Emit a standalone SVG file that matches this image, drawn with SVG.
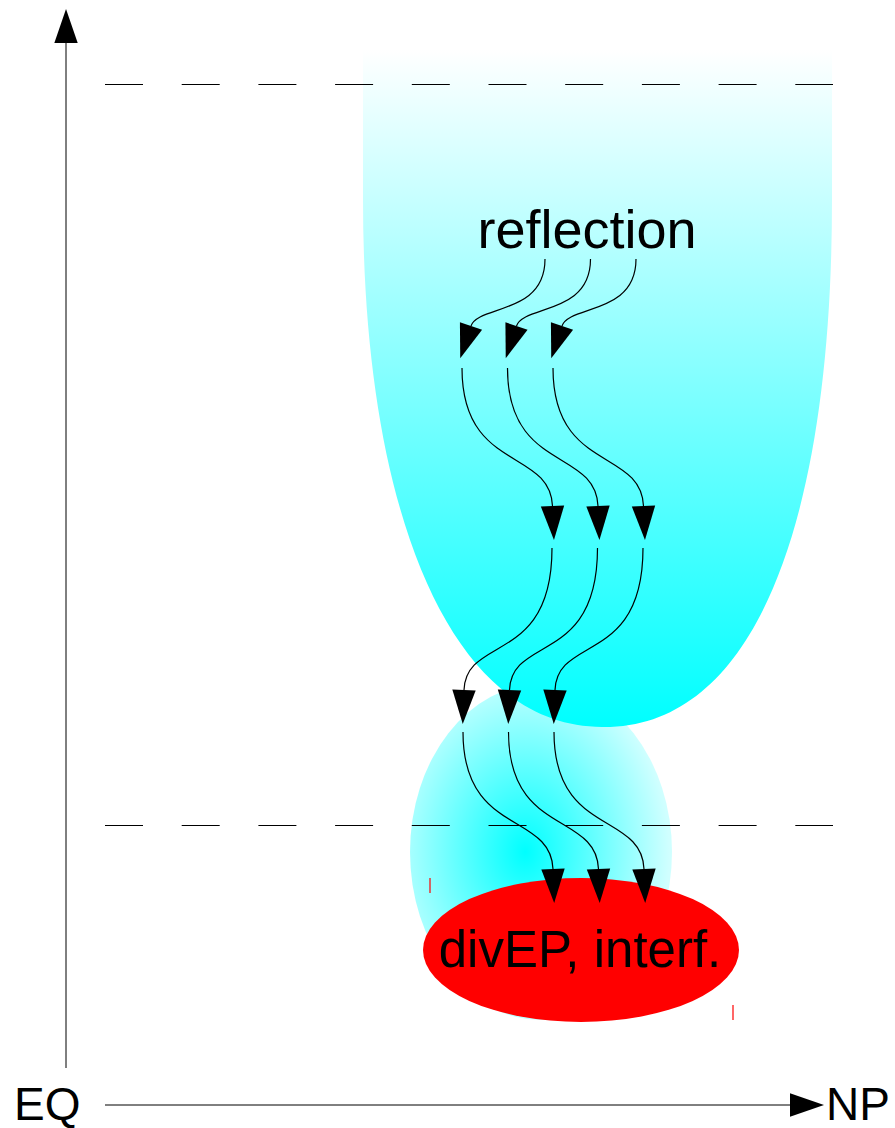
<svg xmlns="http://www.w3.org/2000/svg" width="895" height="1128" viewBox="0 0 895 1128">
<style>
.lbl{font-family:"Liberation Sans",Arial,sans-serif;fill:#000}
.conn{fill:none;stroke:#000;stroke-width:1.2}
.axis{fill:none;stroke:#000;stroke-width:1}
.dash{fill:none;stroke:#000;stroke-width:1;stroke-dasharray:38 38.7}
.tick{stroke:#ff0000;stroke-width:1.2}
</style>
<defs>
<linearGradient id="gUp" gradientUnits="userSpaceOnUse" x1="0" y1="50" x2="0" y2="725">
<stop offset="0" stop-color="#ffffff"/>
<stop offset="1" stop-color="#00ffff"/>
</linearGradient>
<radialGradient id="gLow" cx="0.44" cy="0.5" r="0.55">
<stop offset="0" stop-color="#00ffff"/>
<stop offset="1" stop-color="#d0ffff"/>
</radialGradient>
<marker id="ah" markerUnits="userSpaceOnUse" markerWidth="34" markerHeight="24" viewBox="0 0 32 22" refX="0" refY="11" orient="auto" overflow="visible">
<path d="M0,0 L32,11 L0,22 z" fill="#000"/>
</marker>
</defs>
<g id="lower-region">
<ellipse cx="541" cy="852" rx="131" ry="168" fill="url(#gLow)"/>
</g>
<g id="upper-region">
<path d="M363,50 L363,200 C363,510 450,728 603,727 C760,728 832,510 832,200 L832,50 Z" fill="url(#gUp)"/>
</g>
<g id="divEP">
<ellipse cx="581" cy="950" rx="158" ry="72" fill="#ff0000"/>
<text class="lbl" x="580" y="967" font-size="51" text-anchor="middle">divEP, interf.</text>
</g>
<g id="marks">
<line class="tick" x1="430" y1="878" x2="430" y2="893"/>
<line class="tick" x1="733" y1="1005" x2="733" y2="1020"/>
</g>
<g id="levels">
<line class="dash" x1="105" y1="84.5" x2="833" y2="84.5"/>
<line class="dash" x1="105" y1="825.5" x2="833" y2="825.5"/>
</g>
<g id="reflection">
<text class="lbl" x="587" y="248" font-size="54" text-anchor="middle">reflection</text>
</g>
<g id="axes">
<line class="axis" x1="66" y1="1068" x2="66" y2="43" marker-end="url(#ah)"/>
<line class="axis" x1="105" y1="1105" x2="790" y2="1105" marker-end="url(#ah)"/>
<text class="lbl" x="14" y="1120" font-size="46">EQ</text>
<text class="lbl" x="826" y="1120" font-size="46">NP</text>
</g>
<g id="connectors">
<path class="conn" d="M545,259 C545,315 478,305 471,326" marker-end="url(#ah)"/>
<path class="conn" d="M590.5,259 C590.5,315 523.5,305 516.5,326" marker-end="url(#ah)"/>
<path class="conn" d="M636,259 C636,315 569,305 562,326" marker-end="url(#ah)"/>
<path class="conn" d="M462,368 C462,472 550,448 552.5,506" marker-end="url(#ah)"/>
<path class="conn" d="M507.5,368 C507.5,472 595.5,448 598,506" marker-end="url(#ah)"/>
<path class="conn" d="M553,368 C553,472 641,448 643.5,506" marker-end="url(#ah)"/>
<path class="conn" d="M552,548 C552,665 466,635 464,690" marker-end="url(#ah)"/>
<path class="conn" d="M597.5,548 C597.5,665 511.5,635 509.5,690" marker-end="url(#ah)"/>
<path class="conn" d="M643,548 C643,665 557,635 555,690" marker-end="url(#ah)"/>
<path class="conn" d="M463,732 C463,836 551,812 553,869" marker-end="url(#ah)"/>
<path class="conn" d="M508.5,732 C508.5,836 596.5,812 598.5,869" marker-end="url(#ah)"/>
<path class="conn" d="M554,732 C554,836 642,812 644,869" marker-end="url(#ah)"/>
</g>
</svg>
